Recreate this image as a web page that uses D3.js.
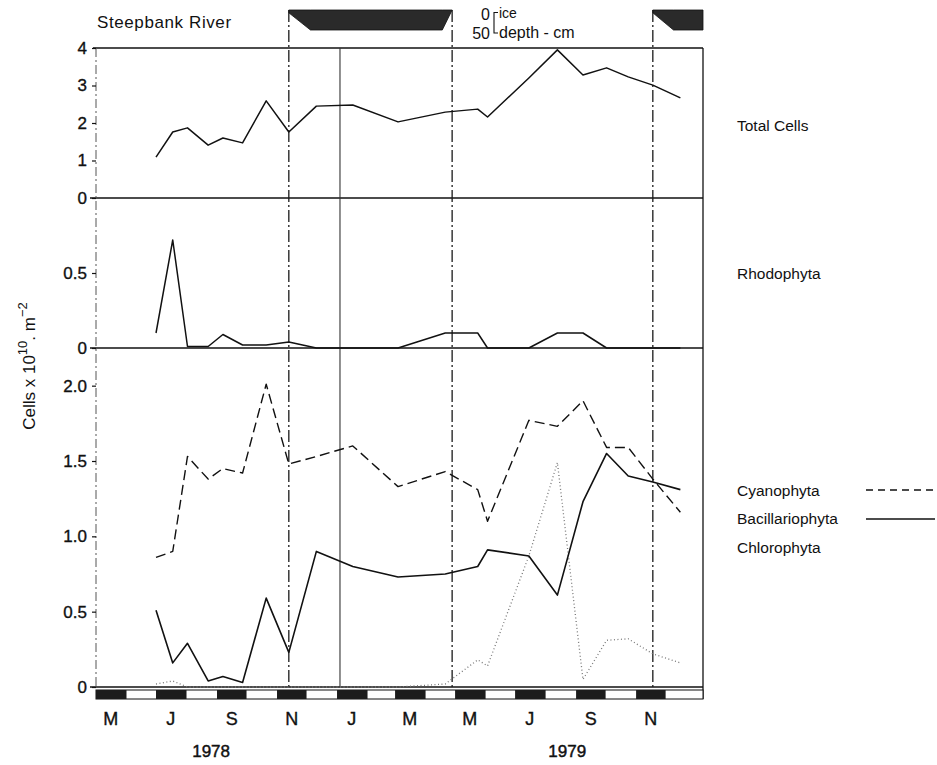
<!DOCTYPE html>
<html>
<head>
<meta charset="utf-8">
<script src="https://cdn.jsdelivr.net/npm/d3@7"></script>
<style>
  body { margin: 0; background: #fff; }
  svg { display: block; }
  text { font-family: "Liberation Sans", Arial, Helvetica, sans-serif; fill: #111; }
</style>
</head>
<body>
<svg id="chart" width="937" height="765"></svg>
<script>
// Sampling dates, Steepbank River 1978-1979
const sampleDates = [
  "1978-07-01", "1978-07-18", "1978-08-02", "1978-08-23", "1978-09-07",
  "1978-09-27", "1978-10-21", "1978-11-13", "1978-12-11", "1979-01-17",
  "1979-03-04", "1979-04-21", "1979-05-24", "1979-06-03", "1979-07-15",
  "1979-08-13", "1979-09-08", "1979-10-02", "1979-10-24", "1979-11-18",
  "1979-12-16"
];

// Cells x 10^10 per m^2
const totalCells      = [1.09, 1.76, 1.87, 1.41, 1.60, 1.47, 2.59, 1.76, 2.45, 2.48, 2.03, 2.29, 2.37, 2.16, 3.20, 3.95, 3.28, 3.47, 3.23, 3.01, 2.67];
const rhodophyta      = [0.10, 0.72, 0.01, 0.01, 0.09, 0.02, 0.02, 0.04, 0.00, 0.00, 0.00, 0.10, 0.10, 0.00, 0.00, 0.10, 0.10, 0.00, 0.00, 0.00, 0.00];
const cyanophyta      = [0.86, 0.90, 1.53, 1.38, 1.45, 1.42, 2.01, 1.48, 1.53, 1.60, 1.33, 1.43, 1.31, 1.10, 1.77, 1.73, 1.90, 1.59, 1.59, 1.38, 1.16];
const bacillariophyta = [0.51, 0.16, 0.29, 0.04, 0.07, 0.03, 0.59, 0.23, 0.90, 0.80, 0.73, 0.75, 0.80, 0.91, 0.87, 0.61, 1.23, 1.55, 1.40, 1.36, 1.31];
const chlorophyta     = [0.02, 0.04, 0.00, 0.00, 0.00, 0.00, 0.00, 0.00, 0.00, 0.00, 0.00, 0.02, 0.18, 0.14, 0.87, 1.49, 0.05, 0.31, 0.32, 0.22, 0.16];

// Ice cover: date and ice depth (cm)
const iceDates1  = ["1978-11-13", "1978-12-05", "1979-04-18", "1979-04-28"];
const iceDepth1  = [7, 50, 50, 0];
const iceDates2  = ["1979-11-18", "1979-12-09", "1980-01-08"];
const iceDepth2  = [7, 50, 50];
const iceOnOffDates = ["1978-11-13", "1979-04-28", "1979-11-18"];
const dividerDate   = "1979-01-04";

// Tick labels
const totalTicks  = [0, 1, 2, 3, 4];
const rhodoTicks  = [0.5];
const lowerTicks  = [0, 0.5, 1.0, 1.5, 2.0];
const lowerTickLabels = ["0", "0.5", "1.0", "1.5", "2.0"];
const monthTickDates  = ["1978-05-16", "1978-07-16", "1978-09-16", "1978-11-16", "1979-01-16",
                         "1979-03-16", "1979-05-16", "1979-07-16", "1979-09-16", "1979-11-16"];
const monthTickLabels = ["M", "J", "S", "N", "J", "M", "M", "J", "S", "N"];
const yearLabels      = ["1978", "1979"];
const yearLabelDates  = ["1978-08-26", "1979-08-23"];

const parse = d3.timeParse("%Y-%m-%d");
const svg = d3.select("#chart");

const left = 96, right = 703;
const x = d3.scaleTime()
  .domain([parse("1978-05-01"), parse("1980-01-08")])
  .range([left, right]);

const yTotal = d3.scaleLinear().domain([0, 4]).range([198, 48]);
const yRhodo = d3.scaleLinear().domain([0, 1]).range([348, 198]);
const yLower = d3.scaleLinear().domain([0, 2.25]).range([687, 348]);
const yIce   = d3.scaleLinear().domain([0, 50]).range([10, 30]);

const dates = sampleDates.map(parse);

// ---- ice cover bars ----
function iceArea(ds, depths) {
  const pts = ds.map((d, i) => ({ date: parse(d), depth: depths[i] }));
  const area = d3.area()
    .x(p => x(p.date))
    .y0(yIce(0))
    .y1(p => yIce(p.depth));
  svg.append("path")
    .datum(pts)
    .attr("d", area)
    .attr("fill", "#2a2a2a")
    .attr("stroke", "#111")
    .attr("stroke-width", 0.8);
}
iceArea(iceDates1, iceDepth1);
iceArea(iceDates2, iceDepth2);

// ---- frame ----
const frame = svg.append("g").attr("stroke", "#111").attr("fill", "none");
frame.append("line").attr("x1", 93).attr("x2", right).attr("y1", yTotal(4)).attr("y2", yTotal(4)).attr("stroke-width", 1.4);
frame.append("line").attr("x1", 90).attr("x2", right).attr("y1", yTotal(0)).attr("y2", yTotal(0)).attr("stroke-width", 1.6);
frame.append("line").attr("x1", 90).attr("x2", right).attr("y1", yRhodo(0)).attr("y2", yRhodo(0)).attr("stroke-width", 1.6);
frame.append("line").attr("x1", 90).attr("x2", right).attr("y1", yLower(0)).attr("y2", yLower(0)).attr("stroke-width", 1.3);
frame.append("line").attr("x1", right).attr("x2", right).attr("y1", yTotal(4)).attr("y2", 699).attr("stroke-width", 1.3);
frame.append("line").attr("x1", left).attr("x2", left).attr("y1", yTotal(4)).attr("y2", yLower(0))
  .attr("stroke", "#555").attr("stroke-width", 1).attr("stroke-dasharray", "9,3,2,3");

// ---- ice on/off markers and divider ----
iceOnOffDates.forEach(d => {
  svg.append("line")
    .attr("x1", x(parse(d))).attr("x2", x(parse(d)))
    .attr("y1", 10).attr("y2", yLower(0))
    .attr("stroke", "#1a1a1a").attr("stroke-width", 1.3)
    .attr("stroke-dasharray", "12,3,2,3");
});
svg.append("line")
  .attr("x1", x(parse(dividerDate))).attr("x2", x(parse(dividerDate)))
  .attr("y1", yTotal(4)).attr("y2", yLower(0))
  .attr("stroke", "#333").attr("stroke-width", 1.1);

// ---- y axes ----
function styleAxis(g) {
  g.select(".domain").remove();
  g.selectAll(".tick line").attr("stroke", "#111").attr("stroke-width", 1.2);
  g.selectAll(".tick text")
    .attr("font-size", 17)
    .attr("font-family", "'Liberation Sans', Arial, sans-serif")
    .attr("fill", "#111")
    .attr("stroke", "#111").attr("stroke-width", 0.35);
}
svg.append("g").attr("transform", `translate(${left},0)`)
  .call(d3.axisLeft(yTotal).tickValues(totalTicks).tickSize(4).tickPadding(5).tickFormat(d3.format("d")))
  .call(styleAxis);
svg.append("g").attr("transform", `translate(${left},0)`)
  .call(d3.axisLeft(yRhodo).tickValues(rhodoTicks).tickSize(4).tickPadding(5).tickFormat(d3.format(".1f")))
  .call(styleAxis);
svg.append("g").attr("transform", `translate(${left},0)`)
  .call(d3.axisLeft(yLower).tickValues(lowerTicks).tickSize(4).tickPadding(5)
    .tickFormat((d, i) => lowerTickLabels[i]))
  .call(styleAxis);
// zero label for the Rhodophyta panel
svg.append("g").attr("transform", `translate(${left},0)`)
  .call(d3.axisLeft(yRhodo).tickValues([0]).tickSize(4).tickPadding(5).tickFormat(d3.format("d")))
  .call(styleAxis);

// ---- series lines ----
function drawLine(values, yScale, opts) {
  const line = d3.line()
    .x((d, i) => x(dates[i]))
    .y(d => yScale(d));
  svg.append("path")
    .datum(values)
    .attr("d", line)
    .attr("fill", "none")
    .attr("stroke", opts.color || "#111")
    .attr("stroke-width", opts.width || 1.5)
    .attr("stroke-linejoin", "round")
    .attr("stroke-dasharray", opts.dash || null);
}
drawLine(totalCells, yTotal, { width: 1.5 });
drawLine(rhodophyta, yRhodo, { width: 1.5 });
drawLine(chlorophyta, yLower, { color: "#777", width: 1.3, dash: "1,2.5" });
drawLine(cyanophyta, yLower, { width: 1.4, dash: "10,5" });
drawLine(bacillariophyta, yLower, { width: 1.6 });

// ---- month bar ----
const months = d3.timeMonths(parse("1978-05-01"), parse("1980-01-01"));
svg.append("rect")
  .attr("x", left).attr("y", 690).attr("width", right - left).attr("height", 9)
  .attr("fill", "#fff").attr("stroke", "#111").attr("stroke-width", 1);
svg.selectAll(".mbar")
  .data(months.filter((m, i) => i % 2 === 0))
  .join("rect")
  .attr("class", "mbar")
  .attr("x", d => x(d))
  .attr("y", 690)
  .attr("width", d => x(d3.timeMonth.offset(d, 1)) - x(d))
  .attr("height", 9)
  .attr("fill", "#1c1c1c");

svg.selectAll(".mlabel")
  .data(monthTickDates)
  .join("text")
  .attr("class", "mlabel")
  .attr("x", d => x(parse(d)))
  .attr("y", 725)
  .attr("text-anchor", "middle")
  .attr("font-size", 18)
  .attr("stroke", "#111").attr("stroke-width", 0.35)
  .text((d, i) => monthTickLabels[i]);

svg.selectAll(".ylabel")
  .data(yearLabelDates)
  .join("text")
  .attr("class", "ylabel")
  .attr("x", d => x(parse(d)))
  .attr("y", 757)
  .attr("text-anchor", "middle")
  .attr("font-size", 17)
  .attr("stroke", "#111").attr("stroke-width", 0.45)
  .text((d, i) => yearLabels[i]);

// ---- titles and labels ----
svg.append("text").attr("x", 97).attr("y", 28).attr("font-size", 17)
  .attr("letter-spacing", 0.6).text("Steepbank River");

// ice depth key
svg.append("text").attr("x", 490).attr("y", 20).attr("font-size", 16).attr("text-anchor", "end").text("0");
svg.append("text").attr("x", 490).attr("y", 39).attr("font-size", 16).attr("text-anchor", "end").text("50");
svg.append("path").attr("d", "M498,12.5 H494 V33 H498").attr("fill", "none").attr("stroke", "#111").attr("stroke-width", 1.1);
svg.append("text").attr("x", 499).attr("y", 18).attr("font-size", 14).text("ice");
svg.append("text").attr("x", 499).attr("y", 38).attr("font-size", 16).text("depth - cm");

// panel names
const panelNames = [
  { t: "Total Cells", y: 131 },
  { t: "Rhodophyta", y: 279 },
  { t: "Cyanophyta", y: 496 },
  { t: "Bacillariophyta", y: 524 },
  { t: "Chlorophyta", y: 553 }
];
svg.selectAll(".pname").data(panelNames).join("text")
  .attr("class", "pname")
  .attr("x", 737).attr("y", d => d.y)
  .attr("font-size", 15.5)
  .text(d => d.t);

// legend keys
svg.append("line").attr("x1", 866).attr("x2", 935).attr("y1", 490).attr("y2", 490)
  .attr("stroke", "#111").attr("stroke-width", 1.3).attr("stroke-dasharray", "7,5");
svg.append("line").attr("x1", 866).attr("x2", 935).attr("y1", 519).attr("y2", 519)
  .attr("stroke", "#111").attr("stroke-width", 1.3);

// y-axis title
const yt = svg.append("text")
  .attr("transform", "translate(35,366) rotate(-90)")
  .attr("text-anchor", "middle")
  .attr("font-size", 17);
yt.append("tspan").text("Cells  x  10");
yt.append("tspan").attr("dy", -8).attr("font-size", 13).text("10");
yt.append("tspan").attr("dy", 8).text(". m");
yt.append("tspan").attr("dy", -8).attr("font-size", 13).text("\u22122");
</script>
</body>
</html>
